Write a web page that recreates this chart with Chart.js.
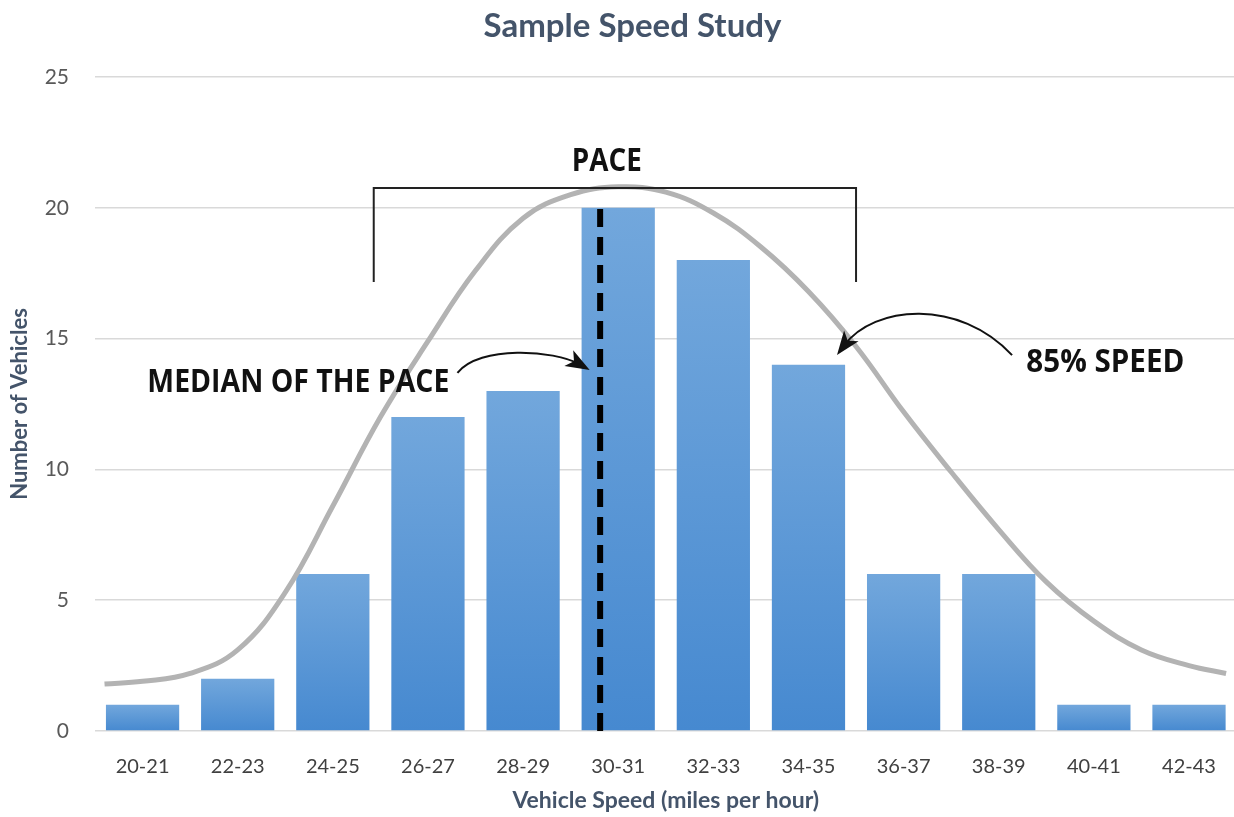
<!DOCTYPE html>
<html>
<head>
<meta charset="utf-8">
<title>Sample Speed Study</title>
<script src="https://cdn.jsdelivr.net/npm/chart.js@4.4.1/dist/chart.umd.min.js"></script>
<style>
  html, body { margin: 0; padding: 0; background: #fff; overflow: hidden; }
  #wrap { width: 1240px; height: 817px; }
</style>
</head>
<body>
<div id="wrap"><canvas id="speedChart"></canvas></div>
<script>
// categories and counts
var speedRanges = ["20-21", "22-23", "24-25", "26-27", "28-29", "30-31", "32-33", "34-35", "36-37", "38-39", "40-41", "42-43"];
var vehicleCounts = [1, 2, 6, 12, 13, 20, 18, 14, 6, 6, 1, 1];
var yTicks = [0, 5, 10, 15, 20, 25];

// grey distribution curve, x given in category-index units (0 = "20-21")
var curveX = [-0.40, 0.0, 0.5, 1.0, 1.5, 2.0, 2.5, 3.0, 3.5, 4.0, 4.5, 5.0, 5.5, 6.0, 6.5, 7.0, 7.5, 8.0, 8.5, 9.0, 9.5, 10.0, 10.5, 11.0, 11.39];
var curveY = [1.8, 1.9, 2.2, 3.1, 5.3, 8.6, 12.0, 14.9, 17.6, 19.6, 20.5, 20.8, 20.6, 19.8, 18.5, 16.8, 14.7, 12.2, 9.9, 7.7, 5.7, 4.2, 3.1, 2.5, 2.2];

// median of the pace (dashed line) and pace bracket
var medianX = [4.81, 4.81];
var medianY = [0, 20];
var paceX = [2.43, 2.43, 7.50, 7.50];
var paceY = [17.16, 20.76, 20.76, 17.16];

function toPoints(xs, ys) {
  var pts = [];
  for (var i = 0; i < xs.length; i++) {
    pts.push({ x: xs[i], y: ys[i] });
  }
  return pts;
}

function barGradient(context) {
  var chart = context.chart;
  var ys = chart.scales.y;
  if (!ys || context.parsed == null) return "#5b9bd5";
  var top = ys.getPixelForValue(context.parsed.y);
  var bottom = ys.getPixelForValue(0);
  if (!isFinite(top) || !isFinite(bottom)) return "#5b9bd5";
  var g = chart.ctx.createLinearGradient(0, top, 0, bottom);
  g.addColorStop(0, "#72a7dc");
  g.addColorStop(1, "#4689d0");
  return g;
}

// title, text and arrows drawn on top of the chart
var notesPlugin = {
  id: "notes",
  afterDatasetsDraw: function(chart) {
    var c = chart.ctx;
    var xs = chart.scales.x2;
    var ys = chart.scales.y;
    function px(v) { return xs.getPixelForValue(v); }
    function py(v) { return ys.getPixelForValue(v); }

    function arrow(p0, p1, p2, p3) {
      var x0 = px(p0[0]), y0 = py(p0[1]);
      var x1 = px(p1[0]), y1 = py(p1[1]);
      var x2 = px(p2[0]), y2 = py(p2[1]);
      var x3 = px(p3[0]), y3 = py(p3[1]);
      var ang = Math.atan2(y3 - y2, x3 - x2);
      var len = 24, half = 9;
      var bx = x3 - Math.cos(ang) * len;
      var by = y3 - Math.sin(ang) * len;
      c.beginPath();
      c.moveTo(x0, y0);
      c.bezierCurveTo(x1, y1, x2, y2, x3 - Math.cos(ang) * 12, y3 - Math.sin(ang) * 12);
      c.lineWidth = 2;
      c.strokeStyle = "#111";
      c.stroke();
      c.beginPath();
      c.moveTo(x3, y3);
      c.lineTo(bx + Math.sin(ang) * half, by - Math.cos(ang) * half);
      c.lineTo(bx + Math.cos(ang) * 6, by + Math.sin(ang) * 6);
      c.lineTo(bx - Math.sin(ang) * half, by + Math.cos(ang) * half);
      c.closePath();
      c.fillStyle = "#111";
      c.fill();
    }

    c.save();
    // chart title
    c.fillStyle = "#44546a";
    c.textAlign = "center";
    c.textBaseline = "middle";
    c.font = "bold 33px Lato, sans-serif";
    c.fillText("Sample Speed Study", px(5.15), 26);

    c.fillStyle = "#111";
    c.textBaseline = "alphabetic";
    c.font = "bold 32px 'Open Sans', sans-serif";

    c.textAlign = "left";
    c.fillText("MEDIAN OF THE PACE", px(0.05), py(12.96), 302);
    c.fillText("85% SPEED", px(9.29), py(13.72), 158);
    c.textAlign = "center";
    c.fillText("PACE", px(4.88), py(21.4), 70);

    arrow([3.31, 13.69], [3.54, 14.76], [4.33, 14.56], [4.70, 13.80]);
    arrow([9.14, 14.37], [8.58, 16.55], [7.69, 16.28], [7.30, 14.37]);
    c.restore();
  }
};

var ctx = document.getElementById("speedChart");

var data = {
  labels: speedRanges,
  datasets: [
    {
      type: "bar",
      label: "Vehicles",
      data: vehicleCounts,
      backgroundColor: barGradient,
      barPercentage: 0.77,
      categoryPercentage: 1.0,
      grouped: false,
      order: 3
    },
    {
      type: "line",
      label: "Distribution",
      data: toPoints(curveX, curveY),
      xAxisID: "x2",
      borderColor: "#b3b3b3",
      borderWidth: 5,
      pointRadius: 0,
      fill: false,
      tension: 0.4,
      order: 2
    },
    {
      type: "line",
      label: "Median",
      data: toPoints(medianX, medianY),
      xAxisID: "x2",
      borderColor: "#000",
      borderWidth: 6,
      borderDash: [18, 10],
      pointRadius: 0,
      fill: false,
      order: 1
    },
    {
      type: "line",
      label: "Pace",
      data: toPoints(paceX, paceY),
      xAxisID: "x2",
      borderColor: "#222",
      borderWidth: 2,
      pointRadius: 0,
      fill: false,
      tension: 0,
      order: 1
    }
  ]
};

var options = {
  responsive: true,
  maintainAspectRatio: false,
  animation: false,
  layout: { padding: { left: 0, right: 2, top: 77, bottom: 0 } },
  plugins: {
    legend: { display: false },
    tooltip: { enabled: false },
    title: { display: false }
  },
  scales: {
    x: {
      type: "category",
      grid: { display: false, drawTicks: false },
      border: { display: false },
      ticks: {
        color: "#404040",
        font: { family: "Lato", size: 20 },
        padding: 24,
        maxRotation: 0
      },
      title: {
        display: true,
        text: "Vehicle Speed (miles per hour)",
        color: "#44546a",
        font: { family: "Lato", size: 23, weight: "bold" },
        padding: { top: 0, bottom: 3 }
      },
      afterFit: function(scale) { scale.height = 86; }
    },
    x2: {
      type: "linear",
      display: false,
      offset: false,
      grid: { offset: false },
      min: -0.5,
      max: 11.5
    },
    y: {
      min: 0,
      max: 25,
      afterBuildTicks: function(scale) {
        scale.ticks = yTicks.map(function(v) { return { value: v }; });
      },
      grid: { color: "#d9d9d9", lineWidth: 1.5, drawTicks: false },
      border: { display: false },
      ticks: {
        color: "#595959",
        font: { family: "Lato", size: 21 },
        padding: 26
      },
      title: {
        display: true,
        text: "Number of Vehicles",
        color: "#44546a",
        font: { family: "Lato", size: 22, weight: "bold" },
        padding: { top: 7, bottom: 0 }
      },
      afterFit: function(scale) { scale.width = 95; }
    }
  }
};

var chart = new Chart(ctx, {
  type: "bar",
  data: data,
  options: options,
  plugins: [notesPlugin]
});
</script>
</body>
</html>
